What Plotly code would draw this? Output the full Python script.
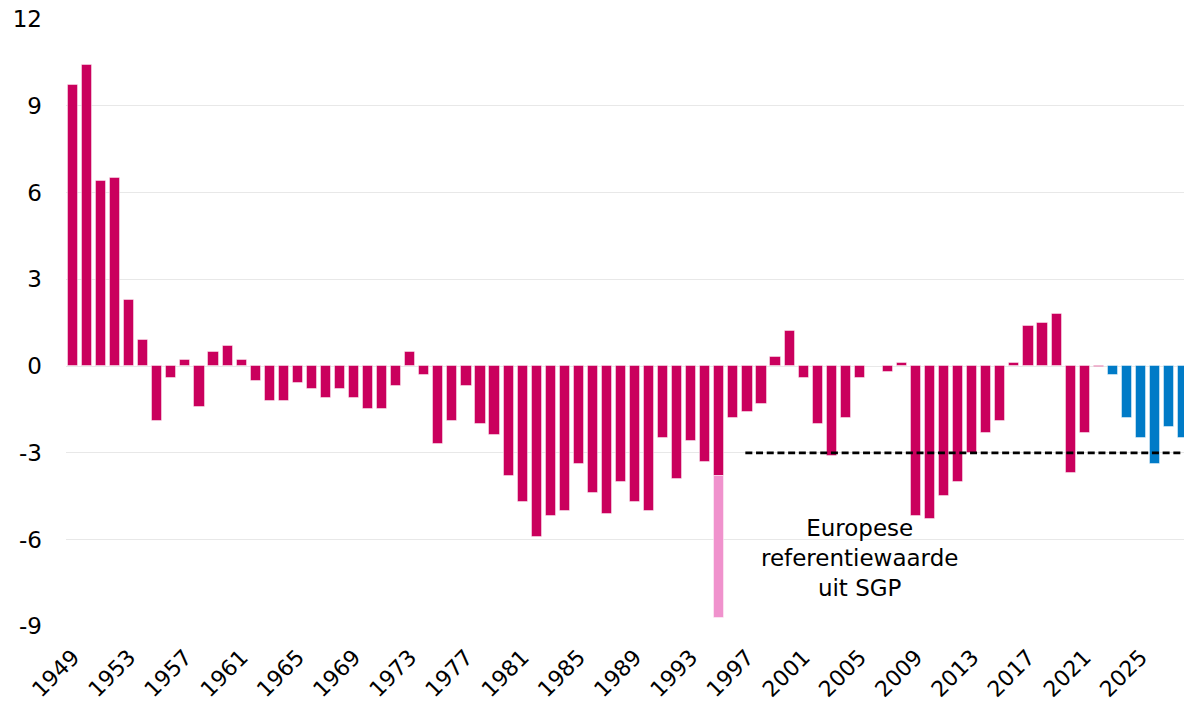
import plotly.graph_objects as go

# Realised balances 1949-2022 (% bbp)
years_real = list(range(1949, 2023))
values_real = [
    9.7, 10.4, 6.4, 6.5, 2.3, 0.9, -1.9, -0.4, 0.2, -1.4,   # 1949-1958
    0.5, 0.7, 0.2, -0.5, -1.2, -1.2, -0.6, -0.8, -1.1, -0.8,  # 1959-1968
    -1.1, -1.5, -1.5, -0.7, 0.5, -0.3, -2.7, -1.9, -0.7, -2.0,  # 1969-1978
    -2.4, -3.8, -4.7, -5.9, -5.2, -5.0, -3.4, -4.4, -5.1, -4.0,  # 1979-1988
    -4.7, -5.0, -2.5, -3.9, -2.6, -3.3, -3.8, -1.8, -1.6, -1.3,  # 1989-1998
    0.3, 1.2, -0.4, -2.0, -3.1, -1.8, -0.4, 0.0, -0.2, 0.1,   # 1999-2008
    -5.2, -5.3, -4.5, -4.0, -3.0, -2.3, -1.9, 0.1, 1.4, 1.5,   # 2009-2018
    1.8, -3.7, -2.3, -0.05,                                    # 2019-2022
]

# One-off extra deficit in 1995
years_oneoff = [1995]
values_oneoff = [-4.9]

# Projections 2023-2028
years_proj = list(range(2023, 2029))
values_proj = [-0.3, -1.8, -2.5, -3.4, -2.1, -2.5]

# European reference value (SGP)
ref_value = -3.0
ref_start, ref_end = 1996.85, 2028.5
ref_label = "Europese<br>referentiewaarde<br>uit SGP"

tick_years = list(range(1949, 2026, 4))
y_ticks = [-9, -6, -3, 0, 3, 6, 9, 12]
y_ticktext = [str(v) for v in y_ticks]

RED = "#CA005D"
PINK = "#F092CD"
BLUE = "#007BC7"
FONT = "DejaVu Sans, Verdana, sans-serif"

fig = go.Figure()
fig.add_trace(go.Bar(x=years_real, y=values_real, marker_color=RED,
                     marker_line=dict(color="rgba(255,255,255,0.45)", width=1),
                     width=0.72, showlegend=False))
fig.add_trace(go.Bar(x=years_oneoff, y=values_oneoff, marker_color=PINK,
                     marker_line=dict(color="rgba(255,255,255,0.45)", width=1),
                     width=0.72, showlegend=False))
fig.add_trace(go.Bar(x=years_proj, y=values_proj, marker_color=BLUE,
                     marker_line=dict(color="rgba(255,255,255,0.45)", width=1),
                     width=0.72, showlegend=False))
fig.add_trace(go.Scatter(x=[ref_start, ref_end], y=[ref_value, ref_value],
                         mode="lines", line=dict(color="black", width=2.6, dash="7px,3.7px"),
                         showlegend=False, hoverinfo="skip"))

fig.add_annotation(x=2005.0, y=-6.63, text=ref_label, showarrow=False,
                   font=dict(family=FONT, size=23, color="black"),
                   align="center", xanchor="center", yanchor="middle")

fig.update_layout(
    width=1184, height=704,
    margin=dict(l=66, r=0, t=18, b=77, autoexpand=False),
    barmode="relative",
    plot_bgcolor="white", paper_bgcolor="white",
    font=dict(family=FONT, color="black"),
    bargap=0,
)
fig.update_xaxes(range=[1948.5, 2028.07], tickvals=tick_years,
                 ticktext=[str(y) for y in tick_years], tickangle=-45,
                 tickfont=dict(family=FONT, size=22, color="black"),
                 showgrid=False, zeroline=False, showline=False, ticks="",
                 ticklabelstandoff=12, automargin=False)
fig.update_yaxes(range=[-9.02, 12.03], tickvals=y_ticks, ticktext=y_ticktext,
                 tickfont=dict(family=FONT, size=23, color="black"),
                 showgrid=True, gridcolor="#E8E8E8", gridwidth=1,
                 zeroline=True, zerolinecolor="#E8E8E8", zerolinewidth=1,
                 showline=False, ticks="", ticklabelstandoff=23,
                 ticklabeloverflow="allow", automargin=False)

fig.write_html("out.html", config={"displayModeBar": False},
               post_script="document.body.style.margin='0';")
